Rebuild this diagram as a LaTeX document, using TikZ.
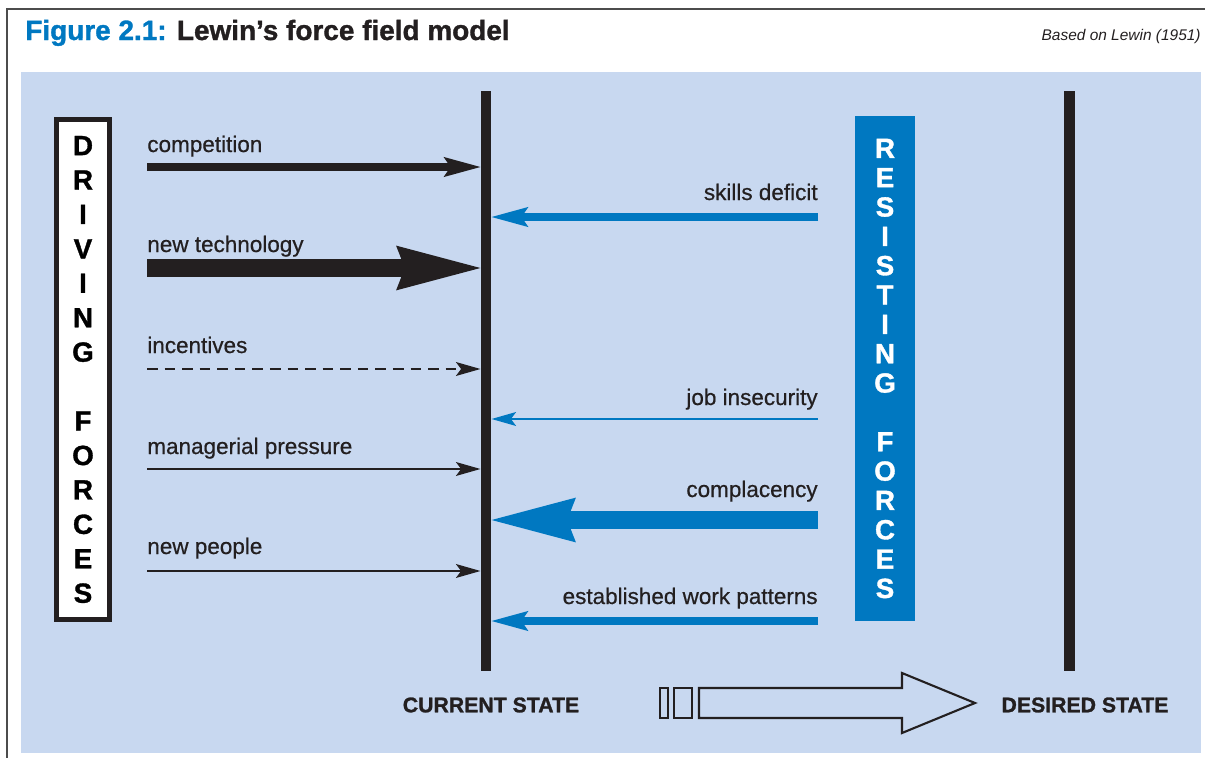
\documentclass[tikz,border=0pt]{standalone}
\usepackage{fontspec}
\setmainfont{Liberation Sans}[BoldFeatures={FakeBold=1.2}]
\newfontfamily\labelfont{Liberation Sans}[FakeBold=0.6]
\usetikzlibrary{arrows.meta,positioning}
\definecolor{panelblue}{RGB}{200,216,240}
\definecolor{forceblue}{RGB}{0,120,193}
\definecolor{inkblack}{RGB}{35,31,32}

\begin{document}
\begin{tikzpicture}[x=0.02cm, y=-0.02cm,
    lbl/.style={font=\labelfont\fontsize{12.8}{15}\selectfont, text=inkblack, inner sep=0pt},
    state/.style={font=\fontsize{12.1}{14}\selectfont\bfseries, text=inkblack, inner sep=0pt},
    letters/.style={align=center, inner sep=0pt, font=\fontsize{15.8}{#1}\selectfont\bfseries},
    bar/.style={fill=inkblack, minimum width=0.21cm, minimum height=11.6cm, inner sep=0pt},
    drive/.style={draw=inkblack},
    resist/.style={draw=forceblue},
    thin tip/.style={-{Stealth[length=14pt, width=8pt, inset=3pt, line width=0pt]}},
    mid tip/.style={-{Stealth[length=21pt, width=11.5pt, inset=4pt, line width=0pt]}},
    big tip/.style={-{Stealth[length=48pt, width=25.5pt, inset=5pt, line width=0pt]}}]

    \useasboundingbox (0,0) rectangle (1205,758);
    \draw[black!70, line width=1.2pt] (7,758) -- (7,9) -- (1205,9);
    \fill[panelblue] (21,72) rectangle (1201,753);

    \node[anchor=base west, inner sep=0pt, font=\fontsize{15.9}{18}\selectfont\bfseries] (title) at (25,40)
        {\textcolor{forceblue}{Figure 2.1:} \textcolor{inkblack}{Lewin’s force field model}};
    \node[anchor=base east, inner sep=0pt, font=\fontsize{8.8}{10}\selectfont\itshape, text=inkblack] (source) at (1201,40)
        {Based on Lewin (1951)};

    \node[letters=19.6pt, draw=inkblack, fill=white, line width=0.1cm, minimum width=1.06cm, minimum height=10cm] (driving) at (83,369.5)
        {D\\R\\I\\V\\I\\N\\G\\\mbox{}\\F\\O\\R\\C\\E\\S};
    \node[letters=16.7pt, fill=forceblue, text=white, minimum width=1.2cm, minimum height=10.1cm] (resisting) at (885,368.5)
        {R\\E\\S\\I\\S\\T\\I\\N\\G\\\mbox{}\\F\\O\\R\\C\\E\\S};

    \node[bar] (current) at (486,381) {};
    \node[bar] (desired) at (1069.5,381) {};

    \coordinate (comp) at (147,167);
    \coordinate (tech) at (147,268);
    \coordinate (ince) at (147,369);
    \coordinate (mana) at (147,469);
    \coordinate (peop) at (147,571);
    \coordinate (skil) at (818,217);
    \coordinate (jobs) at (818,419);
    \coordinate (comf) at (818,520);
    \coordinate (habi) at (818,621);

    \node[lbl, anchor=base west] (complbl) at (147,152) {competition};
    \node[lbl, anchor=base west] (techlbl) at (147,252) {new technology};
    \node[lbl, anchor=base west] (incelbl) at (147,353) {incentives};
    \node[lbl, anchor=base west] (manalbl) at (147,454) {managerial pressure};
    \node[lbl, anchor=base west] (peoplbl) at (147,554) {new people};
    \node[lbl, anchor=base east] (skillbl) at (818,200) {skills deficit};
    \node[lbl, anchor=base east] (jobslbl) at (818,405) {job insecurity};
    \node[lbl, anchor=base east] (comflbl) at (818,497) {complacency};
    \node[lbl, anchor=base east] (habilbl) at (818,604) {established work patterns};

    \draw[drive, line width=4.5pt, mid tip] (comp) -- (comp -| current.west);
    \draw[drive, line width=10.2pt, big tip] (tech) -- (tech -| current.west);
    \draw[drive, line width=1.6pt, dash pattern=on 6pt off 4pt, thin tip] (ince) -- (ince -| current.west);
    \draw[drive, line width=1.4pt, thin tip] (mana) -- (mana -| current.west);
    \draw[drive, line width=1.4pt, thin tip] (peop) -- (peop -| current.west);
    \draw[resist, line width=4.5pt, mid tip] (skil) -- (skil -| current.east);
    \draw[resist, line width=1.6pt, thin tip] (jobs) -- (jobs -| current.east);
    \draw[resist, line width=10.2pt, big tip] (comf) -- (comf -| current.east);
    \draw[resist, line width=4.5pt, mid tip] (habi) -- (habi -| current.east);

    \node[state] (curstate) at (491,705) {CURRENT STATE};
    \node[state] (desstate) at (1085,705) {DESIRED STATE};

    \draw[inkblack, line width=1.2pt] (660,688) rectangle (668,718);
    \draw[inkblack, line width=1.2pt] (674,688) rectangle (692,718);
    \draw[inkblack, line width=1.2pt, line join=miter] (699,688) -- (902,688) -- (902,673) -- (975,703)
        -- (902,733) -- (902,718) -- (699,718) -- cycle;
\end{tikzpicture}
\end{document}
